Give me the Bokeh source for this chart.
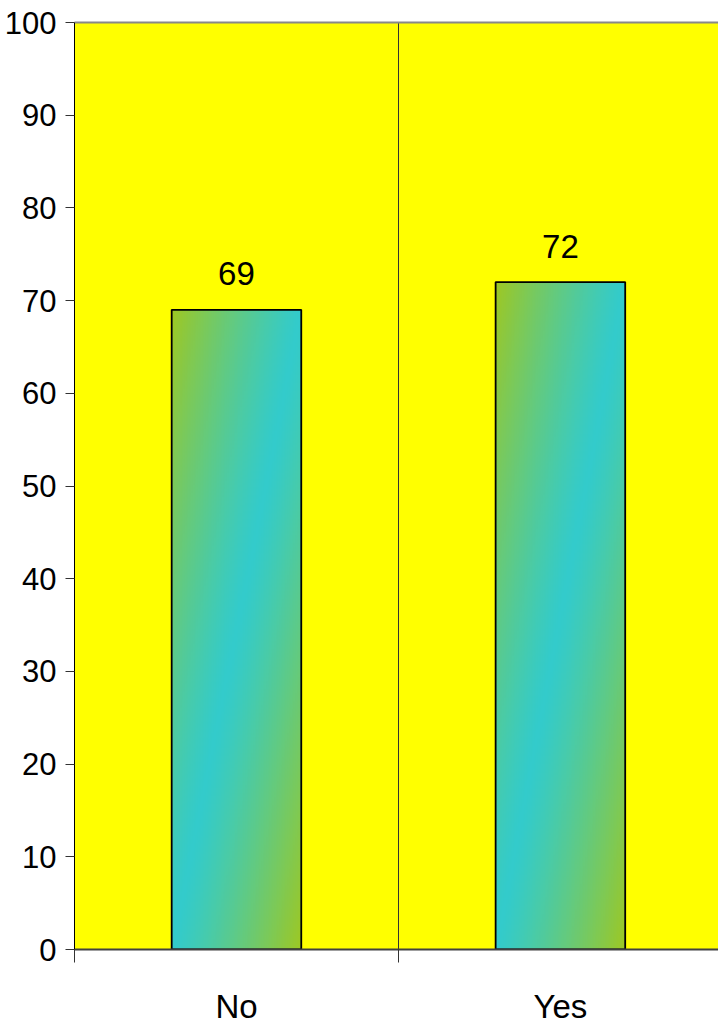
import numpy as np
from bokeh.plotting import figure
from bokeh.models import FixedTicker, LinearAxis, Range1d, ColumnDataSource
from bokeh.core.properties import value
from bokeh.embed import file_html
from bokeh.resources import INLINE

# ---- data ----
categories = ["No", "Yes"]
values = [69, 72]
y_ticks = [0, 10, 20, 30, 40, 50, 60, 70, 80, 90, 100]

FONT = "Liberation Sans"
GREEN = np.array([158, 200, 36], dtype=float)
CYAN = np.array([51, 204, 204], dtype=float)

centers = [i + 0.5 for i in range(len(categories))]
bar_w = 0.4

p = figure(width=718, height=1027, output_backend="svg", toolbar_location=None,
           x_range=Range1d(0, 1.988), y_range=Range1d(0, 100),
           min_border_left=74, min_border_right=0, min_border_top=22, min_border_bottom=77)
p.background_fill_color = "#FFFF00"
p.border_fill_color = "white"
p.outline_line_color = None
p.xaxis.visible = False
p.yaxis.visible = False
p.ygrid.visible = False

# gradient fills for bars
def gradient(H=320, W=80):
    u = np.linspace(0, 1, W)[None, :]
    v = np.linspace(0, 1, H)[:, None]
    t = np.abs(u - v) ** 1.2
    img = np.empty((H, W), dtype=np.uint32)
    view = img.view(dtype=np.uint8).reshape((H, W, 4))
    for k in range(3):
        view[:, :, k] = (CYAN[k] * (1 - t) + GREEN[k] * t).astype(np.uint8)
    view[:, :, 3] = 255
    return img

for c, v in zip(centers, values):
    p.image_rgba(image=[gradient()], x=c - bar_w / 2, y=0, dw=bar_w, dh=v)

src = ColumnDataSource(dict(x=centers, top=values, label=[str(v) for v in values]))
p.vbar(x="x", top="top", width=bar_w, source=src, fill_color=None,
       line_color="black", line_width=1.8)
p.text(x="x", y="top", text="label", source=src, text_align="center",
       text_baseline="alphabetic", y_offset=-36, text_font=value(FONT),
       text_font_size="33px", text_color="black")

# separator grid between categories
p.xgrid.ticker = FixedTicker(ticks=[1])
p.xgrid.grid_line_color = "#333333"
p.xgrid.grid_line_width = 1

# y axis
yax = LinearAxis(ticker=FixedTicker(ticks=y_ticks))
yax.major_tick_in = 0
yax.major_tick_out = 9
yax.minor_tick_line_color = None
yax.axis_line_color = "black"
yax.major_tick_line_color = "#333333"
yax.major_label_text_font = FONT
yax.major_label_text_font_size = "31px"
yax.major_label_text_color = "black"
yax.major_label_standoff = 9
p.add_layout(yax, "left")

# x axis
xax = LinearAxis(ticker=FixedTicker(ticks=centers, minor_ticks=[0, 1, 2]))
xax.major_label_overrides = {c: lab for c, lab in zip(centers, categories)}
xax.major_tick_in = 0
xax.major_tick_out = 0
xax.minor_tick_in = 0
xax.minor_tick_out = 13
xax.minor_tick_line_color = "#333333"
xax.axis_line_color = "#404040"
xax.axis_line_width = 2
xax.major_label_text_font = FONT
xax.major_label_text_font_size = "33px"
xax.major_label_text_color = "black"
xax.major_label_standoff = 25
p.add_layout(xax, "below")

# top border
tax = LinearAxis(ticker=FixedTicker(ticks=[]))
tax.axis_line_color = "#888888"
tax.axis_line_width = 2
tax.major_tick_line_color = None
tax.minor_tick_line_color = None
p.add_layout(tax, "above")

open("out.html", "w").write(file_html(p, INLINE))
